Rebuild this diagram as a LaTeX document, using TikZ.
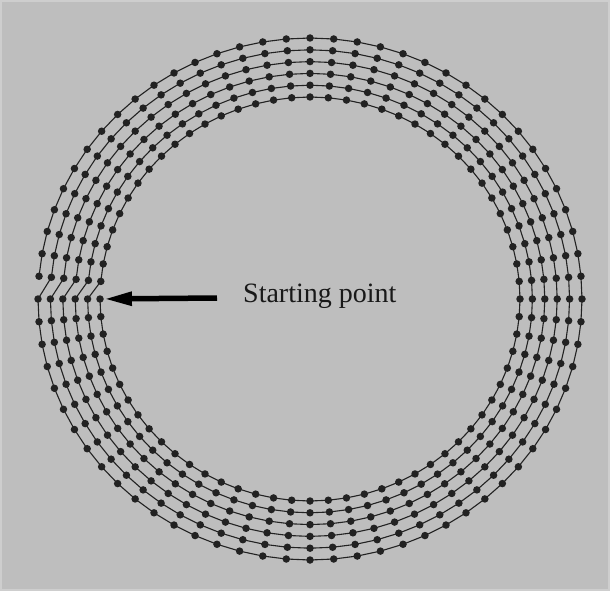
\documentclass[tikz,border=0pt]{standalone}
\usepackage{fontspec}
\setmainfont{Liberation Serif}
\usetikzlibrary{arrows.meta}
\definecolor{bg}{RGB}{190,190,190}
\definecolor{rim}{RGB}{206,206,206}
\definecolor{ink}{RGB}{34,34,34}
\tikzset{
  dot/.style={circle,fill=ink,inner sep=0pt,minimum size=7.5pt},
  wire/.style={draw=ink,line width=1.1pt},
  pointer/.style={draw=black,line width=5.5pt,-{Triangle[length=28pt,width=13pt]}},
  caption/.style={font=\fontsize{28}{32}\selectfont,text=black!90,inner sep=0pt,anchor=base west}
}
\begin{document}
\begin{tikzpicture}[x=1pt,y=-1pt]
  \fill[bg] (0,0) rectangle (610,591);
  \draw[rim,line width=2pt] (1,1) rectangle (609,590);
  \useasboundingbox (0,0) rectangle (610,591);
  % ring points: spiral of 6 rings, 72 points each
  \foreach \k in {0,...,5}{
    \pgfmathsetmacro{\rx}{210+12.4*\k}
    \pgfmathsetmacro{\ry}{202+11.8*\k}
    \foreach \j in {0,...,71}{
      \coordinate (p-\k-\j) at ({310+\rx*cos(180+5*\j)},{299-\ry*sin(180+5*\j)});
    }
  }
  % connectors along each ring
  \foreach \k in {0,...,5}{
    \foreach \j in {1,...,71}{
      \pgfmathtruncatemacro{\jm}{\j-1}
      \draw[wire] (p-\k-\jm) -- (p-\k-\j);
    }
  }
  % links between consecutive rings at the start
  \foreach \k in {0,...,4}{
    \pgfmathtruncatemacro{\kk}{\k+1}
    \draw[wire] (p-\k-71) -- (p-\kk-0);
  }
  % dots
  \foreach \k in {0,...,5}{
    \foreach \j in {0,...,71}{
      \node[dot] (d-\k-\j) at (p-\k-\j) {};
    }
  }
  \node[caption] (lbl) at (243,302) {Starting point};
  \coordinate (tail) at (217,298);
  \draw[pointer] (tail) -- (d-0-0);
\end{tikzpicture}
\end{document}
